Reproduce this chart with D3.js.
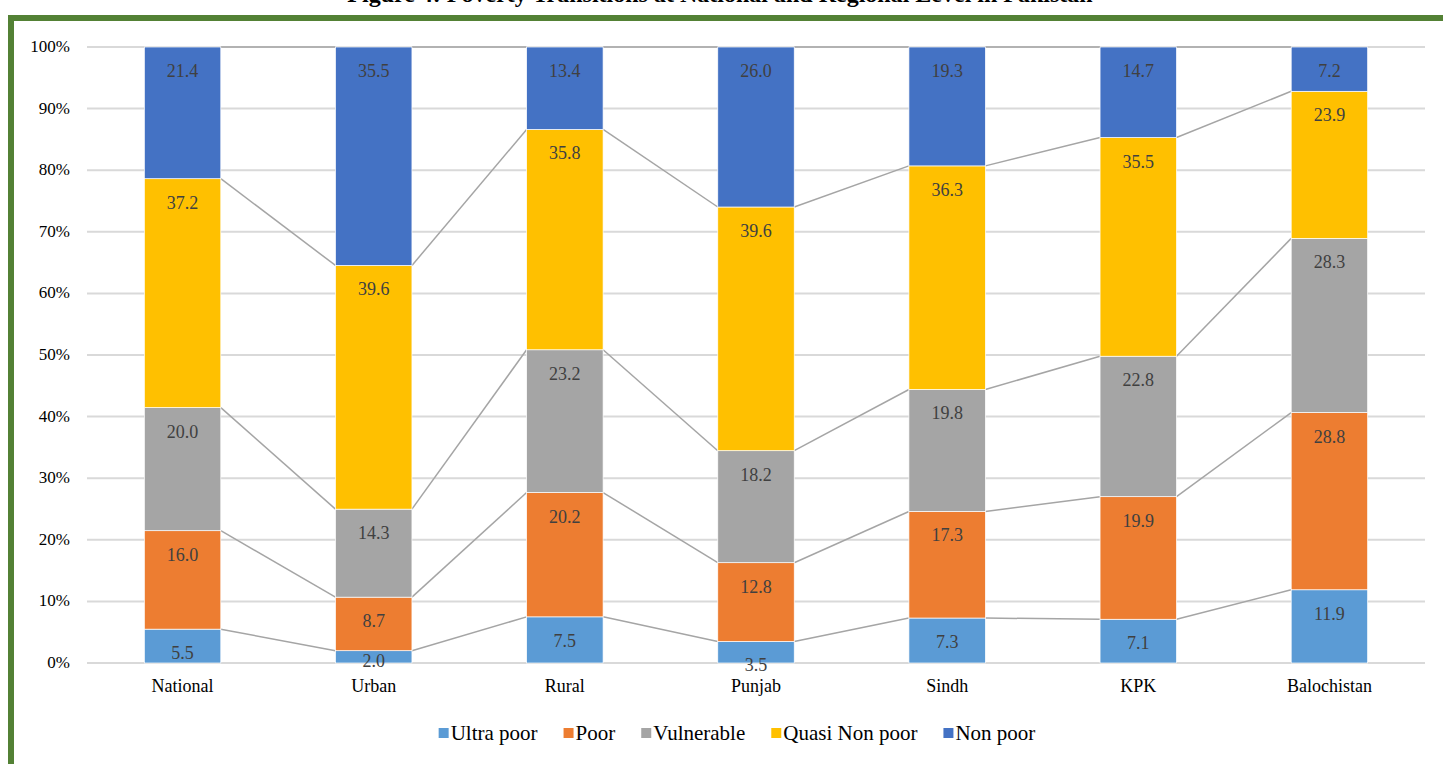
<!DOCTYPE html>
<html>
<head>
<meta charset="utf-8">
<script src="https://d3js.org/d3.v7.min.js"></script>
<style>
  body { margin: 0; background: #fff; }
  text { font-family: "Liberation Serif", "DejaVu Serif", serif; }
</style>
</head>
<body>
<svg id="chart" width="1443" height="764" viewBox="0 0 1443 764"></svg>
<script>
// regions on the x axis
const regions = ["National", "Urban", "Rural", "Punjab", "Sindh", "KPK", "Balochistan"]
// series, bottom to top
const seriesNames = ["Ultra poor", "Poor", "Vulnerable", "Quasi Non poor", "Non poor"]
const seriesColors = ["#5B9BD5", "#ED7D31", "#A5A5A5", "#FFC000", "#4472C4"]
// values per series (same order as regions)
const ultraPoor    = [5.5, 2.0, 7.5, 3.5, 7.3, 7.1, 11.9]
const poor         = [16.0, 8.7, 20.2, 12.8, 17.3, 19.9, 28.8]
const vulnerable   = [20.0, 14.3, 23.2, 18.2, 19.8, 22.8, 28.3]
const quasiNonPoor = [37.2, 39.6, 35.8, 39.6, 36.3, 35.5, 23.9]
const nonPoor      = [21.4, 35.5, 13.4, 26.0, 19.3, 14.7, 7.2]
const yTicks = [0, 0.1, 0.2, 0.3, 0.4, 0.5, 0.6, 0.7, 0.8, 0.9, 1]

const FONT = "Liberation Serif, DejaVu Serif, serif"
const svg = d3.select("#chart")

// title, mostly cut off at the top of the page
svg.append("text")
    .attr("x", 720).attr("y", 2)
    .attr("text-anchor", "middle")
    .attr("font-family", FONT)
    .attr("font-weight", "bold")
    .attr("font-size", 24)
    .text("Figure 4: Poverty Transitions at National and Regional Level in Pakistan")

// green frame
svg.append("path")
    .attr("d", "M11,764 L11,18 L1443,18")
    .attr("fill", "none")
    .attr("stroke", "#538135")
    .attr("stroke-width", 6)

const allSeries = [ultraPoor, poor, vulnerable, quasiNonPoor, nonPoor]
const table = regions.map(function (r, i) {
    let row = {region: r}
    seriesNames.forEach(function (s, j) { row[s] = allSeries[j][i] })
    return row
})

const stacked = d3.stack()
    .keys(seriesNames)
    .offset(d3.stackOffsetExpand)(table)

const x = d3.scaleBand()
    .domain(regions)
    .range([87, 1425])
    .paddingInner(0.6)
    .paddingOuter(0.3)

const y = d3.scaleLinear()
    .domain([0, 1])
    .range([663, 47])

// gridlines
svg.append("g")
    .selectAll("line")
    .data(yTicks)
    .enter()
    .append("line")
    .attr("x1", 87).attr("x2", 1425)
    .attr("y1", d => y(d)).attr("y2", d => y(d))
    .attr("stroke", "#d9d9d9")
    .attr("stroke-width", 2)

// y tick labels
svg.append("g")
    .selectAll("text")
    .data(yTicks)
    .enter()
    .append("text")
    .attr("x", 70)
    .attr("y", d => y(d) + 5)
    .attr("text-anchor", "end")
    .attr("font-family", FONT)
    .attr("font-size", 17)
    .attr("fill", "#000")
    .text(d3.format(".0%"))

// series lines between bars
stacked.forEach(function (layer) {
    let segs = []
    for (let i = 0; i < regions.length - 1; i++) {
        segs.push({
            x1: x(regions[i]) + x.bandwidth(), y1: y(layer[i][1]),
            x2: x(regions[i + 1]), y2: y(layer[i + 1][1])
        })
    }
    svg.append("g")
        .selectAll("line")
        .data(segs)
        .enter()
        .append("line")
        .attr("x1", d => d.x1).attr("y1", d => d.y1)
        .attr("x2", d => d.x2).attr("y2", d => d.y2)
        .attr("stroke", "#a5a5a5")
        .attr("stroke-width", 1.5)
})

// bars
const layers = svg.append("g")
    .selectAll("g")
    .data(stacked)
    .enter()
    .append("g")
    .attr("fill", (d, i) => seriesColors[i])

layers.selectAll("rect")
    .data(d => d)
    .enter()
    .append("rect")
    .attr("x", d => x(d.data.region))
    .attr("width", x.bandwidth())
    .attr("y", d => y(d[1]))
    .attr("height", d => y(d[0]) - y(d[1]))
    .attr("stroke", "#ffffff")
    .attr("stroke-width", 0.7)

// data labels
stacked.forEach(function (layer) {
    svg.append("g")
        .selectAll("text")
        .data(layer)
        .enter()
        .append("text")
        .attr("x", d => x(d.data.region) + x.bandwidth() / 2)
        .attr("y", function (d) {
            let top = y(d[1]), h = y(d[0]) - y(d[1])
            return (h < 15 ? top + 10 : top + 24) + 6
        })
        .attr("text-anchor", "middle")
        .attr("font-family", FONT)
        .attr("font-size", 18)
        .attr("fill", "#404040")
        .text(d => d.data[layer.key].toFixed(1))
})

// x labels
svg.append("g")
    .selectAll("text")
    .data(regions)
    .enter()
    .append("text")
    .attr("x", d => x(d) + x.bandwidth() / 2)
    .attr("y", 692)
    .attr("text-anchor", "middle")
    .attr("font-family", FONT)
    .attr("font-size", 18)
    .attr("fill", "#000")
    .text(d => d)

// legend, centred
const legend = svg.append("g")
let lx = 0
seriesNames.forEach(function (s, i) {
    legend.append("rect")
        .attr("x", lx).attr("y", 728)
        .attr("width", 10).attr("height", 10)
        .attr("fill", seriesColors[i])
    let t = legend.append("text")
        .attr("x", lx + 12).attr("y", 740)
        .attr("font-family", FONT)
        .attr("font-size", 21)
        .attr("fill", "#000")
        .text(s)
    lx += 12 + t.node().getComputedTextLength() + (i < seriesNames.length - 1 ? 26 : 0)
})
legend.attr("transform", `translate(${737 - lx / 2},0)`)
</script>
</body>
</html>
